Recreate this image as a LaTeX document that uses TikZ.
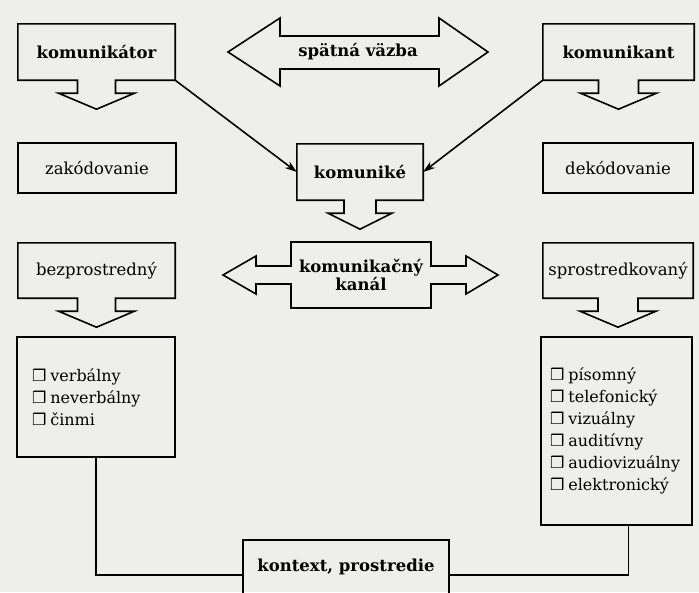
\documentclass[tikz,border=0pt]{standalone}
\usepackage{fontspec}
\setmainfont{DejaVu Serif}
\newfontfamily\symb{DejaVu Sans}
\usetikzlibrary{arrows.meta,positioning,calc}

\definecolor{paper}{RGB}{238,238,236}
\hyphenpenalty=10000
\newcommand{\hd}{\fontsize{16.5}{18}\selectfont\bfseries}
\newcommand{\pl}{\fontsize{16.5}{18}\selectfont}
\newcommand{\cb}{{\symb ❒}\nobreak\hspace{4pt}}

% box with a broad arrow below it: #1 node, #2 stem half width, #3 head overhang
\newcommand{\callout}[3]{%
  \draw[rim] (#1.north west) |- ([xshift=-#2pt]#1.south) -- ++(0,13)
    -- ++(-#3,0) -- ++(#2+#3,16) -- ++(#2+#3,-16) -- ++(-#3,0) -- ++(0,-13)
    -| (#1.north east) -- cycle;}

\tikzset{
  rim/.style={line width=1.6pt, line join=miter},
  box/.style={draw, line width=1.6pt, inner sep=0pt},
  bare/.style={inner sep=0pt},
  listbox/.style={draw, line width=1.6pt, inner xsep=15pt, align=left,
    font=\fontsize{16}{22}\selectfont},
  conn/.style={line width=1.6pt, -{Stealth[length=12pt,width=8pt]}},
  line/.style={line width=1.6pt}
}

\begin{document}
\begin{tikzpicture}[x=1pt,y=-1pt]
  \fill[paper] (0,0) rectangle (699,592);
  \useasboundingbox (0,0) rectangle (699,592);

  % left column
  \node[bare, minimum width=157pt, minimum height=56pt] (ktor) at (96.5,52) {\hd komunikátor};
  \node[box, minimum width=158pt, minimum height=50pt] (zak) at (97,168) {\pl zakódovanie};
  \node[bare, minimum width=157pt, minimum height=55pt] (bez) at (96.5,270.5) {\pl bezprostredný};
  \node[listbox, text width=128pt, minimum height=120pt] (verb) at (96,397)
    {\cb verbálny\\ \cb neverbálny\\ \cb činmi};

  % right column
  \node[bare, minimum width=151pt, minimum height=56pt] (kant) at (618.5,52) {\hd komunikant};
  \node[box, minimum width=150pt, minimum height=50pt] (dek) at (618,168) {\pl dekódovanie};
  \node[bare, minimum width=150pt, minimum height=55pt] (spr) at (618,270.5) {\pl sprostredkovaný};
  \node[listbox, inner xsep=9pt, text width=133pt, minimum height=188pt] (pis) at (616.5,431)
    {\cb písomný\\ \cb telefonický\\ \cb vizuálny\\ \cb auditívny\\ \cb audiovizuálny\\ \cb elektronický};

  % middle
  \node[bare] (spat) at (358,52) {\hd spätná väzba};
  \node[bare, minimum width=126pt, minimum height=56pt] (kmke) at (360,172) {\hd komuniké};
  \node[bare, align=center, minimum width=140pt, minimum height=66pt] (kan) at (361,275)
    {\hd komunikačný\\ \hd kanál};
  \node[box, minimum width=206pt, minimum height=70pt] (kon) at (346,575) {};
  \node[bare] at (346,567) {\hd kontext, prostredie};

  \callout{ktor}{19}{19}
  \callout{bez}{19}{19}
  \callout{kant}{20}{18}
  \callout{spr}{20}{18}
  \callout{kmke}{16}{16}

  \begin{scope}[shift={(spat)}]
    \draw[rim] (-130,0) -- (-78,-34) -- (-78,-16) -- (81,-16) -- (81,-34)
      -- (130,0) -- (81,34) -- (81,17) -- (-78,17) -- (-78,34) -- cycle;
  \end{scope}
  \begin{scope}[shift={(kan)}]
    \draw[rim] (-70,-33) -- (70,-33) -- (70,-9) -- (105,-9) -- (105,-19)
      -- (137,0) -- (105,19) -- (105,9) -- (70,9) -- (70,33) -- (-70,33)
      -- (-70,9) -- (-105,9) -- (-105,19) -- (-138,0) -- (-105,-19)
      -- (-105,-9) -- (-70,-9) -- cycle;
  \end{scope}

  \draw[conn] (ktor.south east) -- (kmke.west);
  \draw[conn] (kant.south west) -- (kmke.east);
  \draw[line] (verb.south) |- (kon.west);
  \draw[line] (kon.east) -| ([xshift=12pt]pis.south);
\end{tikzpicture}
\end{document}
